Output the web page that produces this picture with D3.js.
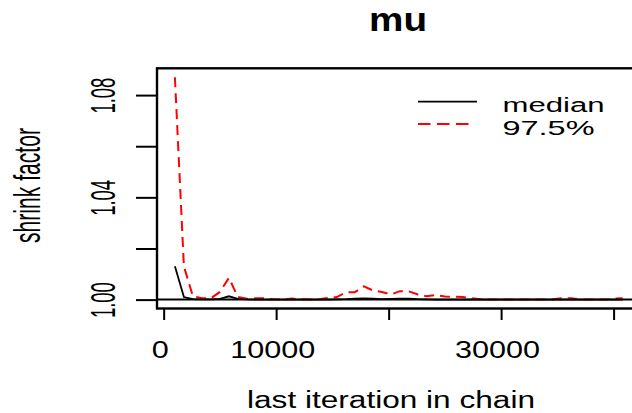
<!DOCTYPE html>
<html>
<head>
<meta charset="utf-8">
<script src="https://cdn.jsdelivr.net/npm/d3@7"></script>
<style>
  body { margin: 0; background: #fff; }
  svg { display: block; font-family: "Liberation Sans", Arial, sans-serif; }
</style>
</head>
<body>
<div id="chart"></div>
<script>
// Gelman-Rubin shrink factor for "mu"
const chartTitle = "mu";
const iterations = [1000, 1800, 2600, 3400, 4200, 5000, 5800, 6600, 7400, 8200,
    9000, 9800, 10600, 11400, 12200, 13000, 13800, 14600, 15400, 16200,
    17000, 17800, 18600, 19400, 20200, 21000, 21800, 22600, 23400, 24200,
    25000, 25800, 26600, 27400, 28200, 29000, 29800, 30600, 31400, 32200,
    33000, 33800, 34600, 35400, 36200, 37000, 37800, 38600, 39400, 40200, 40800];
const median = [1.0130, 1.0010, 1.0002, 1.0001, 1.0001, 1.0003, 1.0013, 1.0003, 1.0001, 1.0000,
    1.0000, 1.0000, 1.0000, 1.0000, 1.0000, 1.0000, 1.0000, 1.0000, 1.0001, 1.0002,
    1.0004, 1.0005, 1.0004, 1.0002, 1.0003, 1.0004, 1.0004, 1.0002, 1.0001, 1.0000,
    1.0000, 1.0000, 1.0000, 1.0000, 1.0000, 1.0000, 1.0000, 1.0000, 1.0000, 1.0000,
    1.0000, 1.0000, 1.0000, 1.0000, 1.0000, 1.0000, 1.0000, 1.0000, 1.0000, 1.0000, 1.0000];
const upper975 = [1.0870, 1.0130, 1.0013, 1.0005, 1.0005, 1.0030, 1.0085, 1.0010, 1.0003, 1.0005,
    1.0005, 1.0001, 1.0000, 1.0004, 1.0001, 1.0000, 1.0001, 1.0006, 1.0010, 1.0028,
    1.0029, 1.0052, 1.0036, 1.0030, 1.0020, 1.0033, 1.0032, 1.0020, 1.0013, 1.0018,
    1.0012, 1.0011, 1.0010, 1.0005, 1.0001, 1.0000, 1.0000, 1.0000, 1.0000, 1.0000,
    1.0000, 1.0000, 1.0001, 1.0005, 1.0005, 1.0001, 1.0000, 1.0000, 1.0000, 1.0004, 1.0005];
const seriesNames = ["median", "97.5%"];
const xTicks = [0, 10000, 20000, 30000, 40000];
const xTickLabels = ["0", "10000", "", "30000", ""];
const yTicks = [1.00, 1.02, 1.04, 1.06, 1.08];
const yTickLabels = ["1.00", "", "1.04", "", "1.08"];

// plot region (right edge runs past the window, as in the original)
const box = { left: 157, right: 640.5, top: 68.3, bottom: 308.5 };
const svg = d3.select("#chart").append("svg")
    .attr("width", 632).attr("height", 413);

// R style 4% range extension
const pad = (lo, hi) => [lo - 0.04 * (hi - lo), hi + 0.04 * (hi - lo)];
const xScale = d3.scaleLinear()
    .domain(pad(d3.min(iterations), d3.max(iterations)))
    .range([box.left, box.right]);
const yLo = Math.min(1, d3.min(median), d3.min(upper975));
const yHi = Math.max(d3.max(median), d3.max(upper975));
const yScale = d3.scaleLinear()
    .domain(pad(yLo, yHi))
    .range([box.bottom, box.top]);

svg.append("defs").append("clipPath").attr("id", "clip")
    .append("rect")
    .attr("x", box.left).attr("y", box.top)
    .attr("width", box.right - box.left).attr("height", box.bottom - box.top);

const plot = svg.append("g").attr("clip-path", "url(#clip)");

const line = vals => d3.line()
    .x((d, i) => xScale(iterations[i]))
    .y(d => yScale(d))(vals);

plot.append("path")
    .attr("d", line(median))
    .attr("fill", "none").attr("stroke", "#000").attr("stroke-width", 1.8);

plot.append("path")
    .attr("d", line(upper975))
    .attr("fill", "none").attr("stroke", "#ff0000").attr("stroke-width", 2)
    .attr("stroke-dasharray", "10,6");

// abline(h = 1)
plot.append("line")
    .attr("x1", box.left).attr("x2", box.right)
    .attr("y1", yScale(1)).attr("y2", yScale(1))
    .attr("stroke", "#000").attr("stroke-width", 2);

// box
svg.append("rect")
    .attr("x", box.left).attr("y", box.top)
    .attr("width", box.right - box.left).attr("height", box.bottom - box.top)
    .attr("fill", "none").attr("stroke", "#000").attr("stroke-width", 2.4);

// x axis
const xAxis = svg.append("g")
    .attr("transform", `translate(0,${box.bottom})`)
    .call(d3.axisBottom(xScale).tickValues(xTicks).tickSize(11.5)
        .tickFormat((d, i) => xTickLabels[i]));
xAxis.select(".domain").remove();
xAxis.selectAll(".tick line").attr("stroke", "#000").attr("stroke-width", 2);
xAxis.selectAll(".tick text")
    .attr("y", 49.8).attr("dy", 0).attr("x", -4)
    .attr("fill", "#000")
    .style("font-size", "23px")
    .each(function(d, i) {
        const s = xTickLabels[i];
        if (s) d3.select(this).attr("textLength", s.length * 17).attr("lengthAdjust", "spacingAndGlyphs");
    });

// y axis, labels turned like las = 0
const yAxis = svg.append("g")
    .attr("transform", `translate(${box.left},0)`)
    .call(d3.axisLeft(yScale).tickValues(yTicks).tickSize(21)
        .tickFormat((d, i) => yTickLabels[i]));
yAxis.select(".domain").remove();
yAxis.selectAll(".tick line").attr("stroke", "#000").attr("stroke-width", 2);
yAxis.selectAll(".tick text")
    .attr("x", 0).attr("dy", 0)
    .attr("transform", "translate(-42,0) rotate(-90)")
    .attr("text-anchor", "middle")
    .attr("fill", "#000")
    .style("font-size", "35px")
    .each(function(d, i) {
        const s = yTickLabels[i];
        if (s) d3.select(this).attr("textLength", s.length * 9).attr("lengthAdjust", "spacingAndGlyphs");
    });

// titles
svg.append("text")
    .attr("x", 398).attr("y", 31)
    .attr("text-anchor", "middle")
    .attr("font-weight", "bold").style("font-size", "34px")
    .attr("textLength", 58).attr("lengthAdjust", "spacingAndGlyphs")
    .text(chartTitle);

svg.append("text")
    .attr("x", 391).attr("y", 408)
    .attr("text-anchor", "middle")
    .style("font-size", "23px")
    .attr("textLength", 288).attr("lengthAdjust", "spacingAndGlyphs")
    .text("last iteration in chain");

svg.append("text")
    .attr("transform", "translate(40,185.5) rotate(-90)")
    .attr("text-anchor", "middle")
    .style("font-size", "37px")
    .attr("textLength", 115).attr("lengthAdjust", "spacingAndGlyphs")
    .text("shrink factor");

// legend (topright, no box)
const legend = [
    { name: seriesNames[0], color: "#000", dash: null, y: 101.7, x2: 477, size: 20, len: 102, base: 112.3 },
    { name: seriesNames[1], color: "#ff0000", dash: "12.5,6.5", y: 124, x2: 472, size: 21, len: 92, base: 135 }
];
legend.forEach(d => {
    svg.append("line")
        .attr("x1", 418).attr("x2", d.x2)
        .attr("y1", d.y).attr("y2", d.y)
        .attr("stroke", d.color).attr("stroke-width", 1.8)
        .attr("stroke-dasharray", d.dash);
    svg.append("text")
        .attr("x", 502.5).attr("y", d.base)
        .style("font-size", d.size + "px")
        .attr("textLength", d.len).attr("lengthAdjust", "spacingAndGlyphs")
        .text(d.name);
});
</script>
</body>
</html>
